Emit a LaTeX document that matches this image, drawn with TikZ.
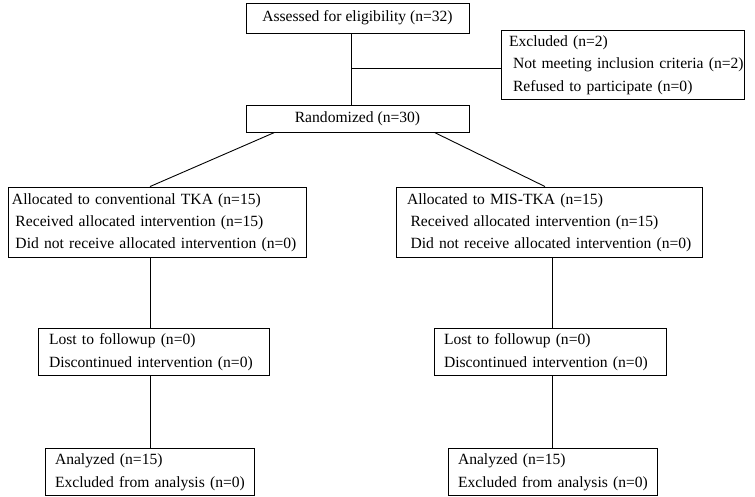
\documentclass[tikz,border=0pt]{standalone}
\usepackage{fontspec}
\setmainfont{Liberation Serif}
\usepackage{tikz}
\usetikzlibrary{calc, positioning}
\definecolor{boxline}{RGB}{0,0,0}
\newcommand{\boxlines}[1]{\begin{tabular}{@{}l@{}}#1\end{tabular}}

\begin{document}
\begin{tikzpicture}[x=1pt, y=-1pt,
    flowbox/.style={draw=boxline, line width=0.9pt, rectangle, inner ysep=0pt, inner xsep=0pt, font=\fontsize{15.6}{22.4}\selectfont},
    listbox/.style={flowbox, align=left},
    link/.style={draw=boxline, line width=0.9pt}]
    \useasboundingbox (0,0) rectangle (755,496);

    % Enrolment
    \node[flowbox, minimum width=223, minimum height=30] (assess) at (357.5,18) {Assessed for eligibility (n=32)};
    \node[listbox, inner xsep=8pt, text width=227pt, minimum height=69] (excl) at (622.5,64.5)
        {\boxlines{Excluded (n=2)\\\hspace{4pt}Not meeting inclusion criteria (n=2)\\\hspace{4pt}Refused to participate (n=0)}};
    \node[flowbox, minimum width=223, minimum height=27] (rand) at (357.5,118.5) {Randomized (n=30)};

    % Allocation
    \node[listbox, inner xsep=4pt, text width=290pt, minimum height=70] (allocL) at (157,222)
        {\boxlines{Allocated to conventional TKA (n=15)\\\hspace{3.5pt}Received allocated intervention (n=15)\\\hspace{3.5pt}Did not receive allocated intervention (n=0)}};
    \node[listbox, inner xsep=11pt, text width=284pt, minimum height=70] (allocR) at (549,222)
        {\boxlines{Allocated to MIS-TKA (n=15)\\\hspace{3.5pt}Received allocated intervention (n=15)\\\hspace{3.5pt}Did not receive allocated intervention (n=0)}};

    % Follow-up
    \node[listbox, inner xsep=11pt, text width=209pt, minimum height=47] (lostL) at (153.5,351.5)
        {\boxlines{Lost to followup (n=0)\\Discontinued intervention (n=0)}};
    \node[listbox, inner xsep=10pt, text width=212pt, minimum height=47] (lostR) at (550,351.5)
        {\boxlines{Lost to followup (n=0)\\Discontinued intervention (n=0)}};

    % Analysis
    \node[listbox, inner xsep=10pt, text width=189pt, minimum height=47] (anaL) at (149.5,471.5)
        {\boxlines{Analyzed (n=15)\\Excluded from analysis (n=0)}};
    \node[listbox, inner xsep=10pt, text width=189pt, minimum height=47] (anaR) at (552.5,471.5)
        {\boxlines{Analyzed (n=15)\\Excluded from analysis (n=0)}};

    % Connectors
    \coordinate (spine) at (351,68);
    \coordinate (colL) at (150,300);
    \coordinate (colR) at (552,300);
    \draw[link] (assess.south -| spine) -- (rand.north -| spine);
    \draw[link] (spine) -- (spine -| excl.west);
    \draw[link] ($(rand.south west)+(29,0)$) -- (allocL.north -| colL);
    \draw[link] ($(rand.south east)+(-35,0)$) -- ($(allocR.north -| colR)+(-7,0)$);
    \foreach \col/\side in {colL/L, colR/R} {
        \draw[link] (alloc\side.south -| \col) -- (lost\side.north -| \col);
        \draw[link] (lost\side.south -| \col) -- (ana\side.north -| \col);
    }
\end{tikzpicture}
\end{document}
